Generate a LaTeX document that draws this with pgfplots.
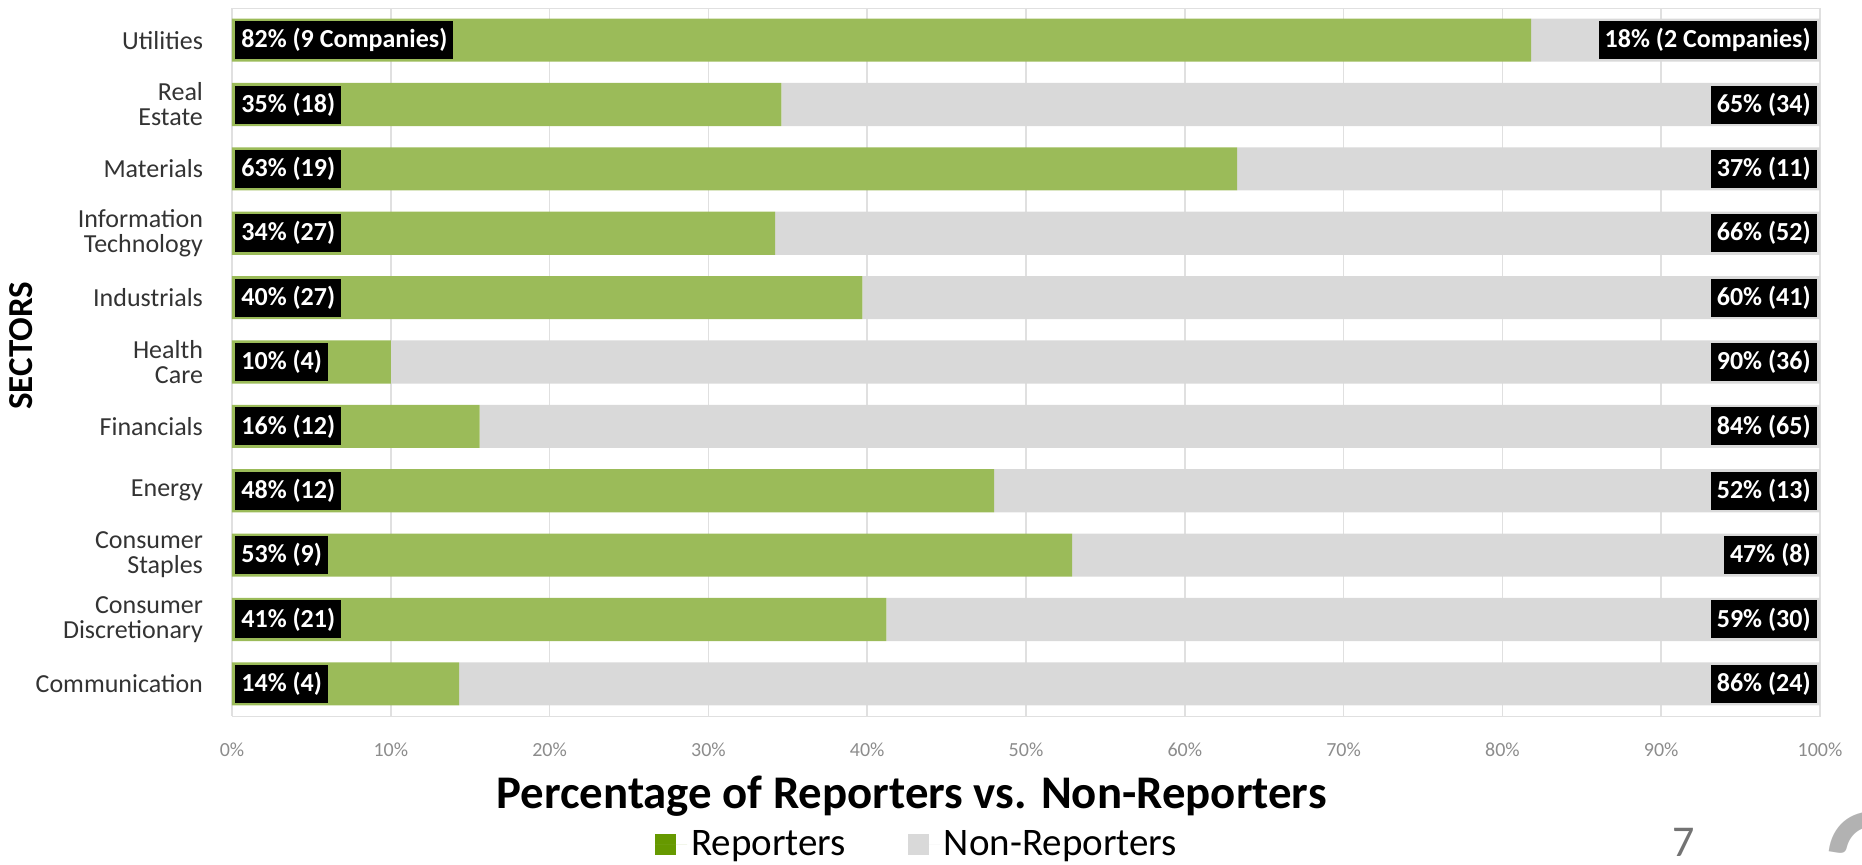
\documentclass[border=0pt]{standalone}
\usepackage{fontspec}
\setmainfont{Carlito}
\usepackage{pgfplots}
\usepackage{pgfplotstable}
\pgfplotsset{compat=1.18}
\definecolor{grn}{HTML}{9BBB59}
\definecolor{gry}{HTML}{D9D9D9}
\definecolor{lgrn}{HTML}{669900}
\definecolor{tickgray}{HTML}{8C8C8C}
\definecolor{gridgray}{HTML}{E0E0E0}

\pgfplotstableread[col sep=comma]{
y,rep,non,x0,x1,lrep,lnon
0,14.3,85.7,0,100,14\% (4),86\% (24)
1,41.2,58.8,0,100,41\% (21),59\% (30)
2,52.9,47.1,0,100,53\% (9),47\% (8)
3,48.0,52.0,0,100,48\% (12),52\% (13)
4,15.6,84.4,0,100,16\% (12),84\% (65)
5,10.0,90.0,0,100,10\% (4),90\% (36)
6,39.7,60.3,0,100,40\% (27),60\% (41)
7,34.2,65.8,0,100,34\% (27),66\% (52)
8,63.3,36.7,0,100,63\% (19),37\% (11)
9,34.6,65.4,0,100,35\% (18),65\% (34)
10,81.8,18.2,0,100,82\% (9 Companies),18\% (2 Companies)
}\data

\tikzset{lab/.style={font=\bfseries\fontsize{13}{15}\selectfont, fill=black, text=white,
    inner xsep=3pt, inner ysep=0pt, minimum height=19pt}}
\pgfplotsset{
  common/.style={
    scale only axis, width=794pt, height=354pt,
    xmin=0, xmax=100, ymin=-0.5, ymax=10.5,
    at={(116pt,74pt)}, anchor=south west,
  },
}

\begin{document}
\begin{tikzpicture}
\useasboundingbox (0,0) rectangle (931pt,432pt);
\begin{axis}[common,
  xbar stacked, bar width=0.67,
  axis line style={gridgray},
  xtick={0,10,...,100},
  xticklabel={\pgfmathprintnumber{\tick}\%},
  /pgf/number format/assume math mode=true,
  xticklabel style={font=\fontsize{10}{12}\selectfont, text=tickgray, yshift=-10pt},
  ytick={0,...,10},
  yticklabels={Communication, {Consumer\\Discretionary}, {Consumer\\Staples}, Energy, Financials, {Health\\Care}, Industrials, {Information\\Technology}, Materials, {Real\\Estate}, Utilities},
  yticklabel style={font=\fontsize{13}{12.5}\selectfont, align=right, text=black!80, xshift=-11pt},
  major tick length=0pt,
  xmajorgrids, grid style={gridgray, line width=0.8pt},
  xlabel={Percentage of Reporters vs. Non-Reporters},
  xlabel style={font=\bfseries\fontsize{23.4}{28}\selectfont, at={(axis description cs:0.428,-0.113)}, anchor=center},
  ylabel={SECTORS},
  ylabel style={font=\bfseries\fontsize{17.5}{20}\selectfont, at={(axis description cs:-0.133,0.523)}, anchor=center, rotate=0},
  legend style={at={(axis description cs:0.432,-0.182)}, anchor=center, draw=none, fill=none,
    legend columns=2, font=\fontsize{19.5}{23}\selectfont,
    /tikz/every even column/.append style={column sep=29pt}},
]
\addplot[fill=grn, draw=none, legend image code/.code={\fill[lgrn] (0pt,-5.25pt) rectangle (10.5pt,5.25pt); \path (0pt,0pt) -- (16pt,0pt);}] table[x=rep, y=y] {\data};
\addlegendentry{Reporters}
\addplot[fill=gry, draw=none, legend image code/.code={\fill[gry] (0pt,-5.25pt) rectangle (10.5pt,5.25pt); \path (0pt,0pt) -- (16pt,0pt);}] table[x=non, y=y] {\data};
\addlegendentry{Non-Reporters}
\end{axis}
\begin{axis}[common, hide axis, clip=false]
\addplot[draw=none, mark=none, nodes near coords, point meta=explicit symbolic,
  nodes near coords style={lab, anchor=west, xshift=1.5pt}] table[x=x0, y=y, meta=lrep] {\data};
\addplot[draw=none, mark=none, nodes near coords, point meta=explicit symbolic,
  nodes near coords style={lab, anchor=east, xshift=-1.5pt}] table[x=x1, y=y, meta=lnon] {\data};
\end{axis}
\node[text=black!55, font=\fontsize{22}{26}\selectfont] at (842pt,11pt) {7};
\node[text=black!30, font=\fontsize{110}{120}\selectfont, anchor=base west, inner sep=0pt] at (908pt,-45pt) {2};
\end{tikzpicture}
\end{document}
